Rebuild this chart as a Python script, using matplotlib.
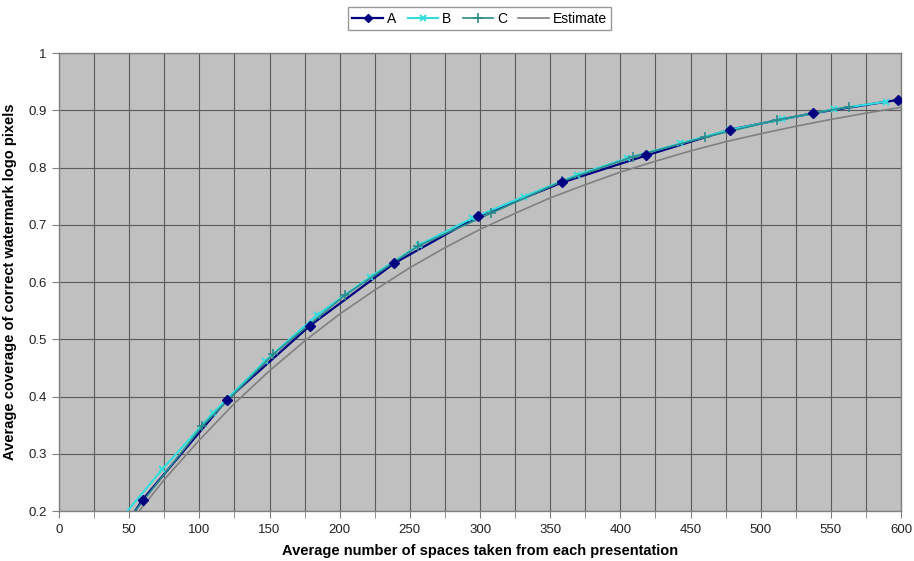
import matplotlib
matplotlib.use("Agg")
import matplotlib.pyplot as plt
from matplotlib.ticker import MultipleLocator
from matplotlib.lines import Line2D

plt.rcParams['font.family'] = ['Liberation Sans', 'DejaVu Sans']

# Data
A_x = [0, 59.6, 119.5, 178.9, 239.0, 298.9, 358.7, 418.4, 477.8, 537.6, 597.5]
A_y = [0.0, 0.220, 0.394, 0.524, 0.633, 0.715, 0.774, 0.821, 0.866, 0.895, 0.918]

B_x = [36.8, 73.6, 110.0, 146.8, 183.7, 221.7, 256.8, 294.0, 331.0, 369.0,
       404.6, 442.6, 478.0, 515.0, 552.4, 589.5]
B_y = [0.165, 0.273, 0.372, 0.462, 0.542, 0.609, 0.665, 0.711, 0.749, 0.787,
       0.816, 0.842, 0.866, 0.884, 0.902, 0.915]

C_x = [51.0, 102.0, 152.7, 203.8, 256.0, 307.7, 358.5, 409.3, 460.4, 511.5, 562.6]
C_y = [0.190, 0.348, 0.474, 0.577, 0.663, 0.720, 0.776, 0.819, 0.853, 0.883, 0.906]

E_x = [50, 75, 100, 125, 150, 175, 200, 225, 250, 275, 300, 325, 350, 375,
       400, 425, 450, 475, 500, 525, 550, 575, 600]
E_y = [0.178, 0.255, 0.324, 0.388, 0.445, 0.497, 0.544, 0.586, 0.625, 0.660,
       0.692, 0.720, 0.747, 0.770, 0.792, 0.811, 0.829, 0.845, 0.859, 0.872,
       0.884, 0.895, 0.905]

x_label = "Average number of spaces taken from each presentation"
y_label = "Average coverage of correct watermark logo pixels"

A_col, B_col, C_col, E_col = '#000080', '#33DDDD', '#2A8C8C', '#808080'

fig = plt.figure(figsize=(9.14, 5.61), dpi=100)
ax = fig.add_axes([0.0646, 0.0891, 0.9212, 0.8164])
ax.set_facecolor('#C0C0C0')

ax.plot(A_x, A_y, color=A_col, lw=1.6, zorder=3)
ax.plot(B_x, B_y, color=B_col, lw=1.5, marker='x', ms=5, mew=1.4, zorder=4)
ax.plot(C_x, C_y, color=C_col, lw=1.2, marker='+', ms=7, mew=1.2, zorder=5)
ax.plot(E_x, E_y, color=E_col, lw=1.2, zorder=6)
ax.plot(A_x, A_y, ls='none', color=A_col, marker='D', ms=5, zorder=7)

ax.set_xlim(0, 600)
ax.set_ylim(0.2, 1.0)
ax.xaxis.set_major_locator(MultipleLocator(50))
ax.xaxis.set_minor_locator(MultipleLocator(25))
ax.set_yticks([0.2, 0.3, 0.4, 0.5, 0.6, 0.7, 0.8, 0.9, 1.0])
ax.set_yticklabels(['0.2', '0.3', '0.4', '0.5', '0.6', '0.7', '0.8', '0.9', '1'])

ax.grid(True, which='both', color='#5A5A5A', lw=0.8, zorder=1)
ax.set_axisbelow(True)
for s in ax.spines.values():
    s.set_color('#808080')
    s.set_linewidth(1.0)

ax.tick_params(axis='both', which='both', direction='out', color='#808080',
               labelsize=9.5, labelcolor='#222222')
ax.tick_params(axis='x', which='major', length=5, pad=4)
ax.tick_params(axis='x', which='minor', length=5)
ax.tick_params(axis='y', which='major', length=5, pad=4)

ax.set_xlabel(x_label, fontsize=10.5, fontweight='bold', labelpad=6)
ax.set_ylabel(y_label, fontsize=10.5, fontweight='bold', labelpad=8)

handles = [
    Line2D([], [], color=A_col, lw=1.6, marker='D', ms=4.5),
    Line2D([], [], color=B_col, lw=1.5, marker='x', ms=5, mew=1.4),
    Line2D([], [], color=C_col, lw=1.2, marker='+', ms=7, mew=1.2),
    Line2D([], [], color=E_col, lw=1.2),
]
leg = fig.legend(handles, ['A', 'B', 'C', 'Estimate'],
                 loc='center', bbox_to_anchor=(0.525, 0.967), ncol=4,
                 fontsize=10, frameon=True, fancybox=False, handlelength=2.2,
                 handletextpad=0.3, columnspacing=0.8, borderpad=0.3)
leg.get_frame().set_edgecolor('#808080')
leg.get_frame().set_linewidth(1.0)

fig.savefig('out.png', dpi=100, facecolor='white')
